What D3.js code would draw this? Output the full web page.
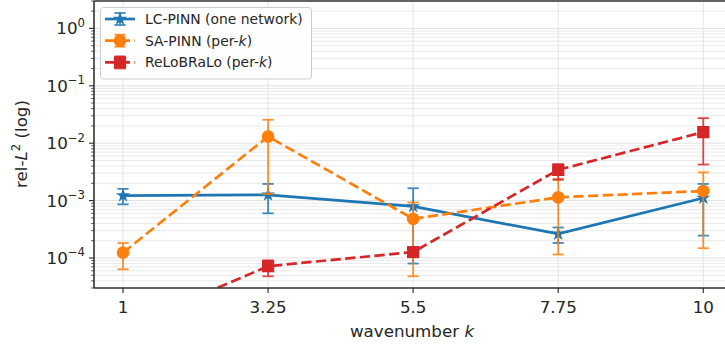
<!DOCTYPE html>
<html>
<head>
<meta charset="utf-8">
<script src="https://cdn.jsdelivr.net/npm/d3@7"></script>
<style>
  body { margin: 0; background: #fff; }
  svg { font-family: "DejaVu Sans", sans-serif; display: block; }
</style>
</head>
<body>
<svg id="chart" width="725" height="348"></svg>
<script>
(function() {
  'use strict';

  // wavenumbers on the x axis
  var ks = [1, 3.25, 5.5, 7.75, 10];
  var xTickLabels = ['1', '3.25', '5.5', '7.75', '10'];
  var yTickExps = [-4, -3, -2, -1, 0];

  // LC-PINN (one network)
  var lcMean = [1.22e-3, 1.26e-3, 7.9e-4, 2.63e-4, 1.11e-3];
  var lcLow = [8.6e-4, 6.0e-4, 8.0e-5, 1.83e-4, 2.45e-4];
  var lcHigh = [1.6e-3, 1.95e-3, 1.64e-3, 3.4e-4, 1.95e-3];

  // SA-PINN (per-k)
  var saMean = [1.24e-4, 1.31e-2, 4.8e-4, 1.14e-3, 1.47e-3];
  var saLow = [6.35e-5, 1.3e-3, 4.8e-5, 1.15e-4, 1.48e-4];
  var saHigh = [1.82e-4, 2.56e-2, 9.3e-4, 2.39e-3, 3.1e-3];

  // ReLoBRaLo (per-k)
  var rbMean = [6e-6, 7.2e-5, 1.27e-4, 3.43e-3, 1.56e-2];
  var rbLow = [4e-6, 4.8e-5, 1.12e-4, 2.3e-3, 4.25e-3];
  var rbHigh = [8e-6, 9.1e-5, 1.45e-4, 4.3e-3, 2.73e-2];

  var series = [
    {name: 'LC-PINN (one network)', italic: null, color: '#1f77b4', dash: null,
      symbol: d3.symbolStar, size: 62, mean: lcMean, low: lcLow, high: lcHigh},
    {name: 'SA-PINN (per-', italic: 'k', color: '#ff7f0e', dash: '10.3,4.4',
      symbol: d3.symbolCircle, size: 125, mean: saMean, low: saLow, high: saHigh},
    {name: 'ReLoBRaLo (per-', italic: 'k', color: '#d62728', dash: '10.3,4.4',
      symbol: d3.symbolSquare, size: 150, mean: rbMean, low: rbLow, high: rbHigh}
  ];

  var svg = d3.select('#chart');
  var left = 94, top = 1, bottom = 288, right = 732.3;

  var x = d3.scaleLinear().domain([0.55, 10.45]).range([left, right]);
  var y = d3.scaleLog().domain([3e-5, 3]).range([bottom, top]);

  var tickColor = '#262626';

  // grid: minor + major horizontal, vertical at ks
  var minor = [];
  d3.range(-5, 1).forEach(function(e) {
    d3.range(2, 10).forEach(function(m) {
      var v = m * Math.pow(10, e);
      if (v >= 3e-5 && v <= 3) { minor.push(v); }
    });
  });
  var grid = svg.append('g');
  grid.selectAll('line.minor').data(minor).enter().append('line')
    .attr('x1', left).attr('x2', 725)
    .attr('y1', function(d) { return y(d); }).attr('y2', function(d) { return y(d); })
    .attr('stroke', '#e9e9e9').attr('stroke-width', 1);
  grid.selectAll('line.major').data(yTickExps).enter().append('line')
    .attr('x1', left).attr('x2', 725)
    .attr('y1', function(d) { return y(Math.pow(10, d)); }).attr('y2', function(d) { return y(Math.pow(10, d)); })
    .attr('stroke', '#e0e0e0').attr('stroke-width', 1);
  grid.selectAll('line.vx').data(ks).enter().append('line')
    .attr('x1', function(d) { return x(d); }).attr('x2', function(d) { return x(d); })
    .attr('y1', top).attr('y2', bottom)
    .attr('stroke', '#e3e3e3').attr('stroke-width', 1);

  svg.append('clipPath').attr('id', 'plotclip').append('rect')
    .attr('x', left).attr('y', top).attr('width', right - left).attr('height', bottom - top);

  var plot = svg.append('g').attr('clip-path', 'url(#plotclip)');
  var line = d3.line()
    .x(function(d) { return x(d.k); })
    .y(function(d) { return y(d.v); });

  series.forEach(function(s) {
    var pts = ks.map(function(k, i) {
      return {k: k, v: s.mean[i], lo: s.low[i], hi: s.high[i]};
    });
    var g = plot.append('g');
    var eb = g.append('g').attr('stroke', s.color).attr('stroke-width', 1.8).attr('opacity', 0.85);
    pts.forEach(function(p) {
      var cx = x(p.k);
      eb.append('line').attr('x1', cx).attr('x2', cx).attr('y1', y(p.lo)).attr('y2', y(p.hi));
      [p.lo, p.hi].forEach(function(v) {
        eb.append('line').attr('x1', cx - 5.6).attr('x2', cx + 5.6).attr('y1', y(v)).attr('y2', y(v));
      });
    });
    g.append('path').datum(pts)
      .attr('d', line)
      .attr('fill', 'none')
      .attr('stroke', s.color)
      .attr('stroke-width', 2.7)
      .attr('stroke-dasharray', s.dash);
    g.selectAll('path.mk').data(pts).enter().append('path')
      .attr('transform', function(d) { return 'translate(' + x(d.k) + ',' + y(d.v) + ')'; })
      .attr('d', d3.symbol().type(s.symbol).size(s.size))
      .attr('fill', s.color);
  });

  // spines
  svg.append('line').attr('x1', left).attr('x2', 725).attr('y1', top).attr('y2', top)
    .attr('stroke', '#333').attr('stroke-width', 1.6);
  svg.append('line').attr('x1', left).attr('x2', 725).attr('y1', bottom).attr('y2', bottom)
    .attr('stroke', '#333').attr('stroke-width', 1.6);
  svg.append('line').attr('x1', left).attr('x2', left).attr('y1', top).attr('y2', bottom)
    .attr('stroke', '#333').attr('stroke-width', 1.6);

  // x ticks
  var xt = svg.append('g');
  ks.forEach(function(k, i) {
    xt.append('line').attr('x1', x(k)).attr('x2', x(k)).attr('y1', bottom).attr('y2', bottom + 5)
      .attr('stroke', tickColor).attr('stroke-width', 1.1);
    xt.append('text').attr('x', x(k)).attr('y', 313).attr('text-anchor', 'middle')
      .attr('font-size', 16.7).attr('fill', tickColor).text(xTickLabels[i]);
  });

  // y ticks
  var yt = svg.append('g');
  minor.forEach(function(v) {
    yt.append('line').attr('x1', left - 2.8).attr('x2', left).attr('y1', y(v)).attr('y2', y(v))
      .attr('stroke', tickColor).attr('stroke-width', 0.8);
  });
  yTickExps.forEach(function(e) {
    var yy = y(Math.pow(10, e));
    yt.append('line').attr('x1', left - 5).attr('x2', left).attr('y1', yy).attr('y2', yy)
      .attr('stroke', tickColor).attr('stroke-width', 1.1);
    var t = yt.append('text').attr('x', left - 9).attr('y', yy + 6).attr('text-anchor', 'end')
      .attr('font-size', 16.7).attr('fill', tickColor);
    t.append('tspan').text('10');
    t.append('tspan').attr('dy', -7.5).attr('font-size', 11.7)
      .text(e < 0 ? '\u2212' + Math.abs(e) : String(e));
  });

  // axis labels
  var xl = svg.append('text').attr('x', 412).attr('y', 337).attr('text-anchor', 'middle')
    .attr('font-size', 16.7).attr('fill', tickColor);
  xl.append('tspan').text('wavenumber ');
  xl.append('tspan').attr('font-style', 'italic').text('k');

  var yl = svg.append('text').attr('transform', 'translate(27,144) rotate(-90)')
    .attr('text-anchor', 'middle').attr('font-size', 16.7).attr('fill', tickColor);
  yl.append('tspan').text('rel-');
  yl.append('tspan').attr('font-style', 'italic').text('L');
  yl.append('tspan').attr('dy', -7).attr('font-size', 11.7).text('2');
  yl.append('tspan').attr('dy', 7).text(' (log)');

  // legend
  var lg = svg.append('g');
  lg.append('rect').attr('x', 100.5).attr('y', 7.5).attr('width', 211).attr('height', 71.5)
    .attr('rx', 3).attr('fill', '#fff').attr('fill-opacity', 0.85)
    .attr('stroke', '#cccccc').attr('stroke-width', 1);
  series.forEach(function(s, i) {
    var cy = 19 + i * 21.7;
    var row = lg.append('g');
    row.append('line').attr('x1', 105).attr('x2', 135).attr('y1', cy).attr('y2', cy)
      .attr('stroke', s.color).attr('stroke-width', 2.7).attr('stroke-dasharray', s.dash);
    var eb = row.append('g').attr('stroke', s.color).attr('stroke-width', 1.8).attr('opacity', 0.85);
    eb.append('line').attr('x1', 120).attr('x2', 120).attr('y1', cy - 6).attr('y2', cy + 6);
    eb.append('line').attr('x1', 114.4).attr('x2', 125.6).attr('y1', cy - 6).attr('y2', cy - 6);
    eb.append('line').attr('x1', 114.4).attr('x2', 125.6).attr('y1', cy + 6).attr('y2', cy + 6);
    row.append('path').attr('transform', 'translate(120,' + cy + ')')
      .attr('d', d3.symbol().type(s.symbol).size(s.size)).attr('fill', s.color);
    var t = row.append('text').attr('x', 145).attr('y', cy + 5)
      .attr('font-size', 13.9).attr('fill', tickColor);
    t.append('tspan').text(s.name);
    if (s.italic) {
      t.append('tspan').attr('font-style', 'italic').text(s.italic);
      t.append('tspan').text(')');
    }
  });
}).call(this);
</script>
</body>
</html>
